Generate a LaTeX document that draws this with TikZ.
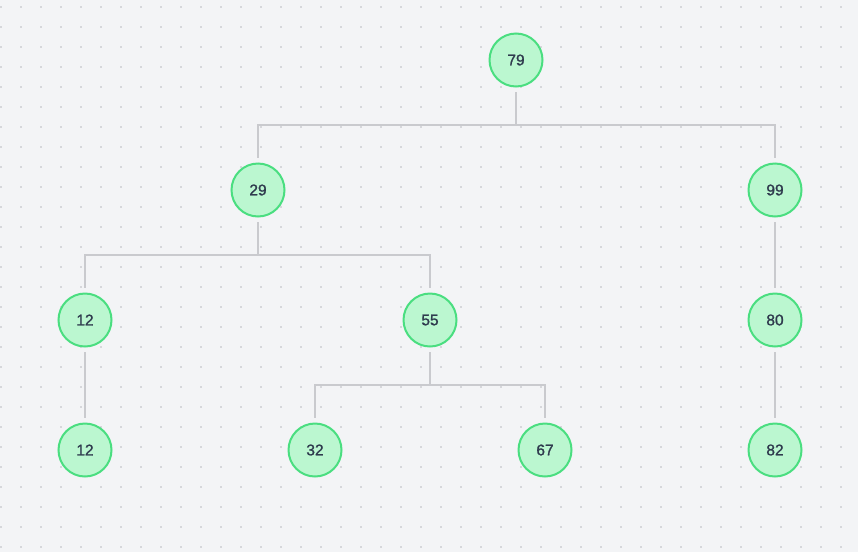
\documentclass[tikz,border=0pt]{standalone}
\usepackage{fontspec}
\setmainfont{Liberation Sans}
\newfontfamily\nodefont[FakeBold=1.3]{Liberation Sans}
\begin{document}
\begin{tikzpicture}[x=1pt,y=-1pt,
  tnode/.style={circle,draw=nodeborder,fill=nodefill,line width=2pt,minimum size=53pt,inner sep=0pt,text=nodetext,font=\nodefont\fontsize{15.5}{17}\selectfont},
  conn/.style={draw=linegray,line width=1.5pt,shorten <=4.5pt,shorten >=4.5pt}]
\definecolor{bg}{HTML}{F3F4F6}
\definecolor{dotc}{HTML}{D6D7DB}
\definecolor{nodefill}{HTML}{BBF7D0}
\definecolor{nodeborder}{HTML}{4ADE80}
\definecolor{nodetext}{HTML}{2F3B4E}
\definecolor{linegray}{HTML}{C9CACE}
\useasboundingbox (0,0) rectangle (858,552);
\fill[bg] (0,0) rectangle (858,552);
\foreach \i in {0,...,42}{
  \foreach \j in {0,...,27}{
    \fill[dotc] (20*\i,20*\j+6) rectangle ++(2,2);
  }
}
\node[tnode] (n79) at (516,60) {79};
\node[tnode] (n29) at (258,190) {29};
\node[tnode] (n99) at (775,190) {99};
\node[tnode] (n12a) at (85,320) {12};
\node[tnode] (n55) at (430,320) {55};
\node[tnode] (n80) at (775,320) {80};
\node[tnode] (n12b) at (85,450) {12};
\node[tnode] (n32) at (315,450) {32};
\node[tnode] (n67) at (545,450) {67};
\node[tnode] (n82) at (775,450) {82};
\draw[conn] (n79.south) -- ++(0,37.5) -| (n29.north);
\draw[conn] (n79.south) -- ++(0,37.5) -| (n99.north);
\draw[conn] (n29.south) -- ++(0,37.5) -| (n12a.north);
\draw[conn] (n29.south) -- ++(0,37.5) -| (n55.north);
\draw[conn] (n99.south) -- (n80.north);
\draw[conn] (n12a.south) -- (n12b.north);
\draw[conn] (n55.south) -- ++(0,37.5) -| (n32.north);
\draw[conn] (n55.south) -- ++(0,37.5) -| (n67.north);
\draw[conn] (n80.south) -- (n82.north);
\end{tikzpicture}
\end{document}
